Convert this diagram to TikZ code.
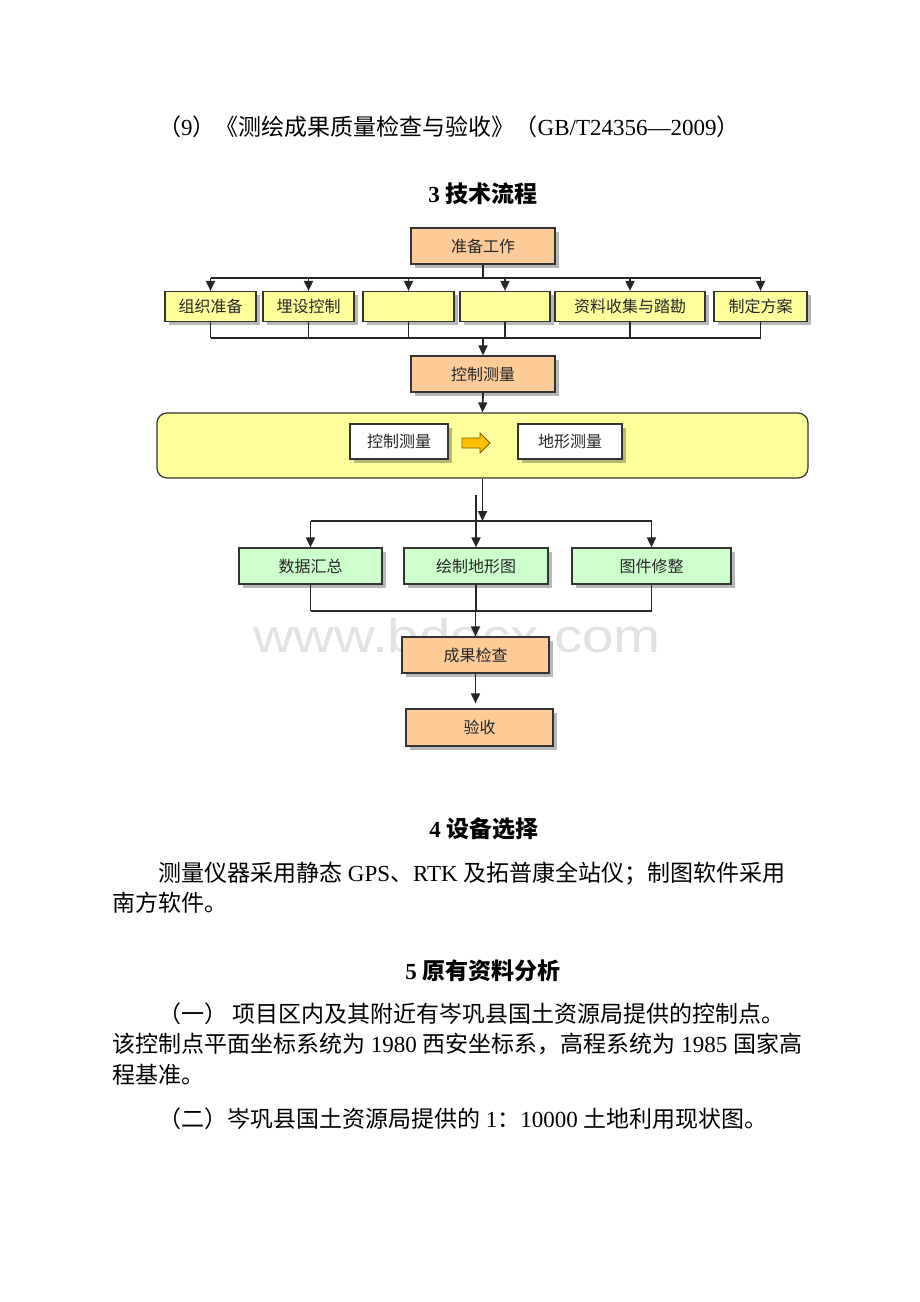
\documentclass[tikz,border=0pt]{standalone}
\usepackage{fontspec}
\usepackage{graphicx}
\setmainfont{Liberation Serif}
\newfontfamily\cjk{Noto Sans CJK SC}
\newfontfamily\wmfont{Liberation Sans}
\usetikzlibrary{shadows,arrows.meta}
\definecolor{boxorange}{HTML}{FCCB98}
\definecolor{boxyellow}{HTML}{FFFF9C}
\definecolor{boxgreen}{HTML}{CCFFCC}
\definecolor{arrowgold}{HTML}{FFC000}
\definecolor{arrowedge}{HTML}{7A5C00}
\definecolor{edgegray}{HTML}{333333}
\definecolor{wmgray}{HTML}{E2E2E2}
\begin{document}
\begin{tikzpicture}[x=1pt,y=-1pt,
  box/.style={draw=edgegray, line width=1.2pt, minimum height=36pt, inner sep=0pt,
    font=\cjk\fontsize{16pt}{16pt}\selectfont, text=black!85,
    drop shadow={shadow xshift=3.5pt, shadow yshift=-3.5pt, fill=black, opacity=0.28}},
  orangebox/.style={box, fill=boxorange},
  yellowbox/.style={box, fill=boxyellow, minimum height=30pt},
  greenbox/.style={box, fill=boxgreen},
  whitebox/.style={box, fill=white, minimum height=35pt},
  conn/.style={line width=1.8pt, draw=black!85},
  arr/.style={conn, -{Triangle[length=10pt,width=9pt]}},
  body/.style={anchor=base west, inner sep=0pt, font=\fontsize{23pt}{23pt}\selectfont},
  head/.style={anchor=base, inner sep=0pt, font=\bfseries\fontsize{23pt}{23pt}\selectfont},
]
\fill[white] (0,0) rectangle (920,1302);
\useasboundingbox (0,0) rectangle (920,1302);

% watermark
\node[text=wmgray, font=\wmfont\fontsize{47pt}{47pt}\selectfont, anchor=base west, inner sep=0pt] (wm) at (253,652) {\scalebox{1.2}[1]{www.bdocx.com}};

% text above
\node[body] (t9) at (158,135) {{\cjk （}9{\cjk ）《测绘成果质量检查与验收》（}GB/T24356—2009{\cjk ）}};
\node[head] (h3) at (483,202) {3 {\cjk 技术流程}};

% bus coordinates
\coordinate (busA) at (0,278);
\coordinate (busB) at (0,338);
\coordinate (busC) at (0,521);
\coordinate (busD) at (0,611);

% flowchart nodes
\node[orangebox, minimum width=144pt] (prep) at (483,246) {准备工作};
\node[yellowbox, minimum width=91pt] (y1) at (210.5,306.5) {组织准备};
\node[yellowbox, minimum width=91pt] (y2) at (308.5,306.5) {埋设控制};
\node[yellowbox, minimum width=91pt] (y3) at (408.5,306.5) {};
\node[yellowbox, minimum width=90pt] (y4) at (505,306.5) {};
\node[yellowbox, minimum width=150pt] (y5) at (630,306.5) {资料收集与踏勘};
\node[yellowbox, minimum width=93pt] (y6) at (760.5,306.5) {制定方案};
\node[orangebox, minimum width=144pt] (ctrl) at (483,374) {控制测量};

\node[draw=edgegray, line width=1.2pt, fill=boxyellow, rounded corners=10pt,
      minimum width=651pt, minimum height=65pt, inner sep=0pt] (big) at (482.5,445.5) {};
\node[whitebox, minimum width=98pt] (ic) at (399,441.5) {控制测量};
\node[whitebox, minimum width=104pt] (it) at (570,441.5) {地形测量};
\draw[fill=arrowgold, draw=arrowedge, line width=0.8pt]
  (462,438) -- (480,438) -- (480,433) -- (490,443) -- (480,453) -- (480,448) -- (462,448) -- cycle;

\node[greenbox, minimum width=143pt] (g1) at (310.5,566) {数据汇总};
\node[greenbox, minimum width=144pt] (g2) at (476,566) {绘制地形图};
\node[greenbox, minimum width=159pt] (g3) at (651.5,566) {图件修整};
\node[orangebox, minimum width=147pt] (check) at (475.5,655) {成果检查};
\node[orangebox, minimum width=147pt, minimum height=37pt] (accept) at (479.5,727.5) {验收};

% connectors: top fan-out
\draw[conn] (prep.south) -- (prep.south |- busA);
\draw[conn] (y1.north |- busA) -- (y6.north |- busA);
\foreach \n in {y1,y2,y3,y4,y5,y6} {
  \draw[arr] (\n.north |- busA) -- (\n.north);
  \draw[conn] (\n.south) -- (\n.south |- busB);
}
\draw[conn] (y1.south |- busB) -- (y6.south |- busB);
\draw[arr] (ctrl.north |- busB) -- (ctrl.north);
\draw[arr] (ctrl.south) -- (big.north);

% to green boxes
\draw[arr] (big.south) -- (big.south |- busC);
\coordinate (stub) at (476,495);
\draw[line width=1.2pt, draw=black!85] (stub) -- (stub |- busC);
\draw[conn] (g1.north |- busC) -- (g3.north |- busC);
\foreach \n in {g1,g2,g3} {
  \draw[arr] (\n.north |- busC) -- (\n.north);
  \draw[conn] (\n.south) -- (\n.south |- busD);
}
\draw[conn] (g1.south |- busD) -- (g3.south |- busD);
\draw[arr] (check.north |- busD) -- (check.north);
\draw[arr, shorten >=5pt] (check.south) -- (check.south |- accept.north);

% text below
\node[head] (h4) at (484,837) {4 {\cjk 设备选择}};
\node[body] (p1) at (158,881) {{\cjk 测量仪器采用静态} GPS{\cjk 、}RTK {\cjk 及拓普康全站仪；制图软件采用}};
\node[body] (p1b) at (112,911) {\cjk 南方软件。};
\node[head] (h5) at (483,979) {5 {\cjk 原有资料分析}};
\node[body] (p2) at (158,1022) {{\cjk （一）} {\cjk 项目区内及其附近有岑巩县国土资源局提供的控制点。}};
\node[body] (p2b) at (112,1052) {{\cjk 该控制点平面坐标系统为} 1980 {\cjk 西安坐标系，高程系统为} 1985 {\cjk 国家高}};
\node[body] (p2c) at (112,1083) {\cjk 程基准。};
\node[body] (p3) at (158,1127) {{\cjk （二）岑巩县国土资源局提供的} 1{\cjk ：}10000 {\cjk 土地利用现状图。}};
\end{tikzpicture}
\end{document}
